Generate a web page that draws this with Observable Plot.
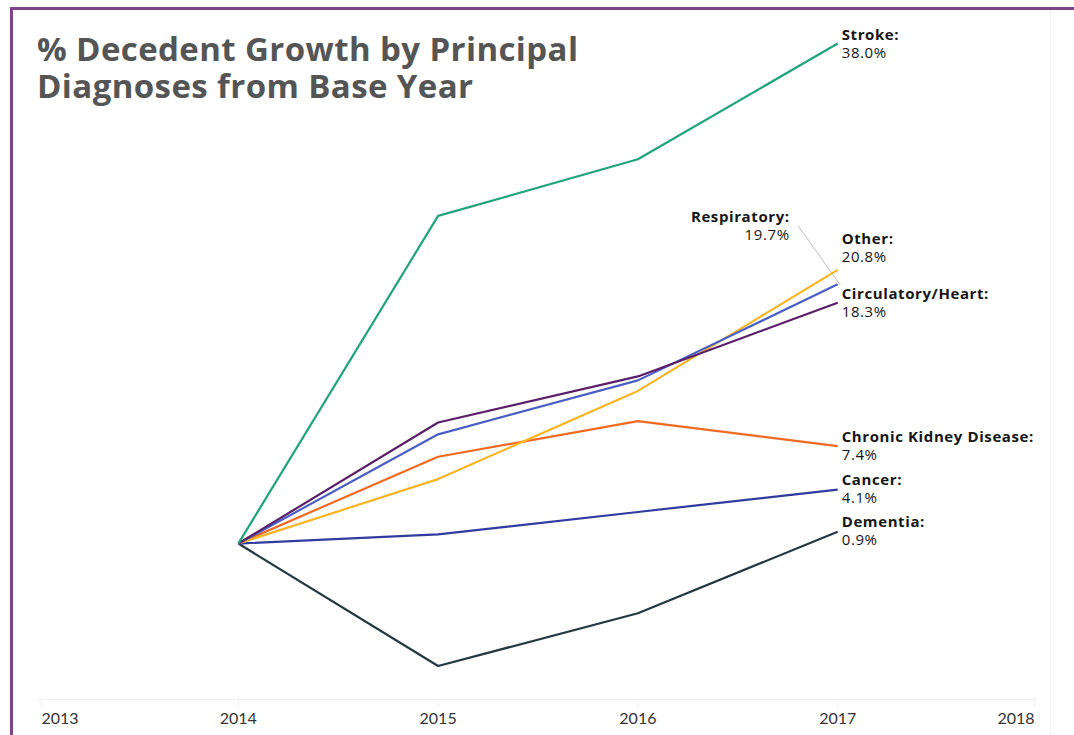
<!DOCTYPE html>
<html>
<head>
<meta charset="utf-8">
<script src="https://cdn.jsdelivr.net/npm/d3@7"></script>
<script src="https://cdn.jsdelivr.net/npm/@observablehq/plot@0.6"></script>
<style>
  html, body { margin: 0; padding: 0; background: #fff; }
  #wrap { position: relative; width: 1074px; height: 735px; overflow: hidden; font-family: "Open Sans", Lato, sans-serif; }
  #frame { position: absolute; left: 10px; top: 7px; right: -10px; bottom: -10px;
           border-top: 3px solid #7b4787; border-left: 3px solid #7b4787; pointer-events: none; }
  #edge { position: absolute; left: 1050px; top: 10px; width: 1px; bottom: 0; background: #f3f3f3; }
  #title { position: absolute; left: 37px; top: 30px; margin: 0; font-size: 33px; line-height: 37px;
           font-weight: 700; color: #555; letter-spacing: 0.4px; white-space: nowrap; }
  #chart { position: absolute; left: 0; top: 0; }
</style>
</head>
<body>
<div id="wrap">
  <div id="edge"></div>
  <div id="chart"></div>
  <div id="frame"></div>
  <h1 id="title">% Decedent Growth by Principal<br>Diagnoses from Base Year</h1>
</div>
<script>
// ---- data (percent growth from 2014 base year) ----
const years = [2014, 2015, 2016, 2017];
const stroke      = [0, 24.9, 29.2, 38.0];
const other       = [0, 4.9, 11.6, 20.8];
const respiratory = [0, 8.3, 12.4, 19.7];
const circulatory = [0, 9.2, 12.7, 18.3];
const ckd         = [0, 6.6, 9.3, 7.4];
const cancer      = [0, 0.7, 2.4, 4.1];
const dementia    = [0, -9.3, -5.3, 0.9];

const seriesNames = ["Dementia", "Cancer", "Chronic Kidney Disease", "Other", "Respiratory", "Circulatory/Heart", "Stroke"];
const seriesValues = [dementia, cancer, ckd, other, respiratory, circulatory, stroke];
const seriesColors = ["#26383f", "#2f3b9e", "#f26a21", "#f7b525", "#4b5fc3", "#5b1f6a", "#21a47b"];
const axisYears = [2013, 2014, 2015, 2016, 2017, 2018];
const endLabels = ["0.9%", "4.1%", "7.4%", "20.8%", "19.7%", "18.3%", "38.0%"];

// ---- build table ----
const rows = [];
seriesNames.forEach((name, i) => {
  years.forEach((yr, j) => rows.push({series: name, year: yr, value: seriesValues[i][j]}));
});
const ends = seriesNames.map((name, i) => ({
  series: name, year: years[years.length - 1], value: seriesValues[i][years.length - 1], label: endLabels[i]
}));

// label layout (pixel offsets of the two-line label block relative to each line's end point)
const layout = {
  "Stroke":                 {dx: 4,   dy: 0,     anchor: "start"},
  "Other":                  {dx: 4,   dy: -23,   anchor: "start"},
  "Respiratory":            {dx: -48, dy: -59.5, anchor: "end"},
  "Circulatory/Heart":      {dx: 4,   dy: -0.5,  anchor: "start"},
  "Chronic Kidney Disease": {dx: 4,   dy: -0.5,  anchor: "start"},
  "Cancer":                 {dx: 4,   dy: -1.5,  anchor: "start"},
  "Dementia":               {dx: 4,   dy: -1,    anchor: "start"}
};

// make the first line (the diagnosis name) bold, and track the letters a little
function boldFirstLine(index, scales, values, dims, context, next) {
  const g = next(index, scales, values, dims, context);
  g.querySelectorAll("text").forEach(t => {
    t.setAttribute("letter-spacing", "0.6");
    const ts = t.querySelector("tspan");
    if (ts) ts.setAttribute("font-weight", "700");
  });
  return g;
}

const labelFont = "'Open Sans', Lato, sans-serif";
const labelMarks = ends.map(d => {
  const L = layout[d.series];
  return Plot.text([d], {x: "year", y: "value", text: e => e.series + ":\n" + e.label,
    dx: L.dx, dy: L.dy, textAnchor: L.anchor, lineAnchor: "middle", lineHeight: 1.2,
    fontWeight: 400, fontSize: 15, fill: "#161616", fontFamily: labelFont, render: boldFirstLine});
});

// leader line for the Respiratory label, drawn from the data end point via scales
const resp = ends.find(d => d.series === "Respiratory");
const leader = Plot.link([resp], {
  x1: "year", y1: "value", x2: "year", y2: "value", stroke: "#bdbdbd", strokeWidth: 1,
  render(index, scales, values, dims, context, next) {
    const x = scales.x(resp.year), y = scales.y(resp.value);
    const ns = "http://www.w3.org/2000/svg";
    const grp = document.createElementNS(ns, "g");
    const ln = document.createElementNS(ns, "line");
    ln.setAttribute("x1", x - 39); ln.setAttribute("y1", y - 58);
    ln.setAttribute("x2", x + 3); ln.setAttribute("y2", y + 1);
    ln.setAttribute("stroke", "#bdbdbd"); ln.setAttribute("stroke-width", 1);
    grp.appendChild(ln);
    return grp;
  }
});

const yMin = -11.85, yMax = 38;
const axisCommon = {tickFormat: d => String(d), tickSize: 8, tickPadding: 5, label: null,
  stroke: "#f0f0f0", fill: "#333", fontSize: 16};

const chart = Plot.plot({
  width: 1074,
  height: 735,
  marginLeft: 38,
  marginRight: 37,
  marginTop: 43,
  marginBottom: 36,
  style: {fontFamily: "Lato, 'Open Sans', sans-serif", background: "transparent", overflow: "visible"},
  x: {domain: [2013, 2018], axis: null},
  y: {domain: [yMin, yMax], axis: null},
  color: {domain: seriesNames, range: seriesColors},
  marks: [
    Plot.ruleY([yMin], {stroke: "#efefef", strokeWidth: 1}),
    Plot.axisX({...axisCommon, ticks: axisYears.slice(1, 5)}),
    Plot.axisX({...axisCommon, ticks: [axisYears[0]], textAnchor: "start", dx: 3}),
    Plot.axisX({...axisCommon, ticks: [axisYears[5]], textAnchor: "end", dx: -3}),
    leader,
    Plot.line(rows, {x: "year", y: "value", z: "series", stroke: "series", strokeWidth: 2.2,
      strokeLinejoin: "miter", strokeLinecap: "butt"}),
    ...labelMarks
  ]
});
document.getElementById("chart").appendChild(chart);
</script>
</body>
</html>
